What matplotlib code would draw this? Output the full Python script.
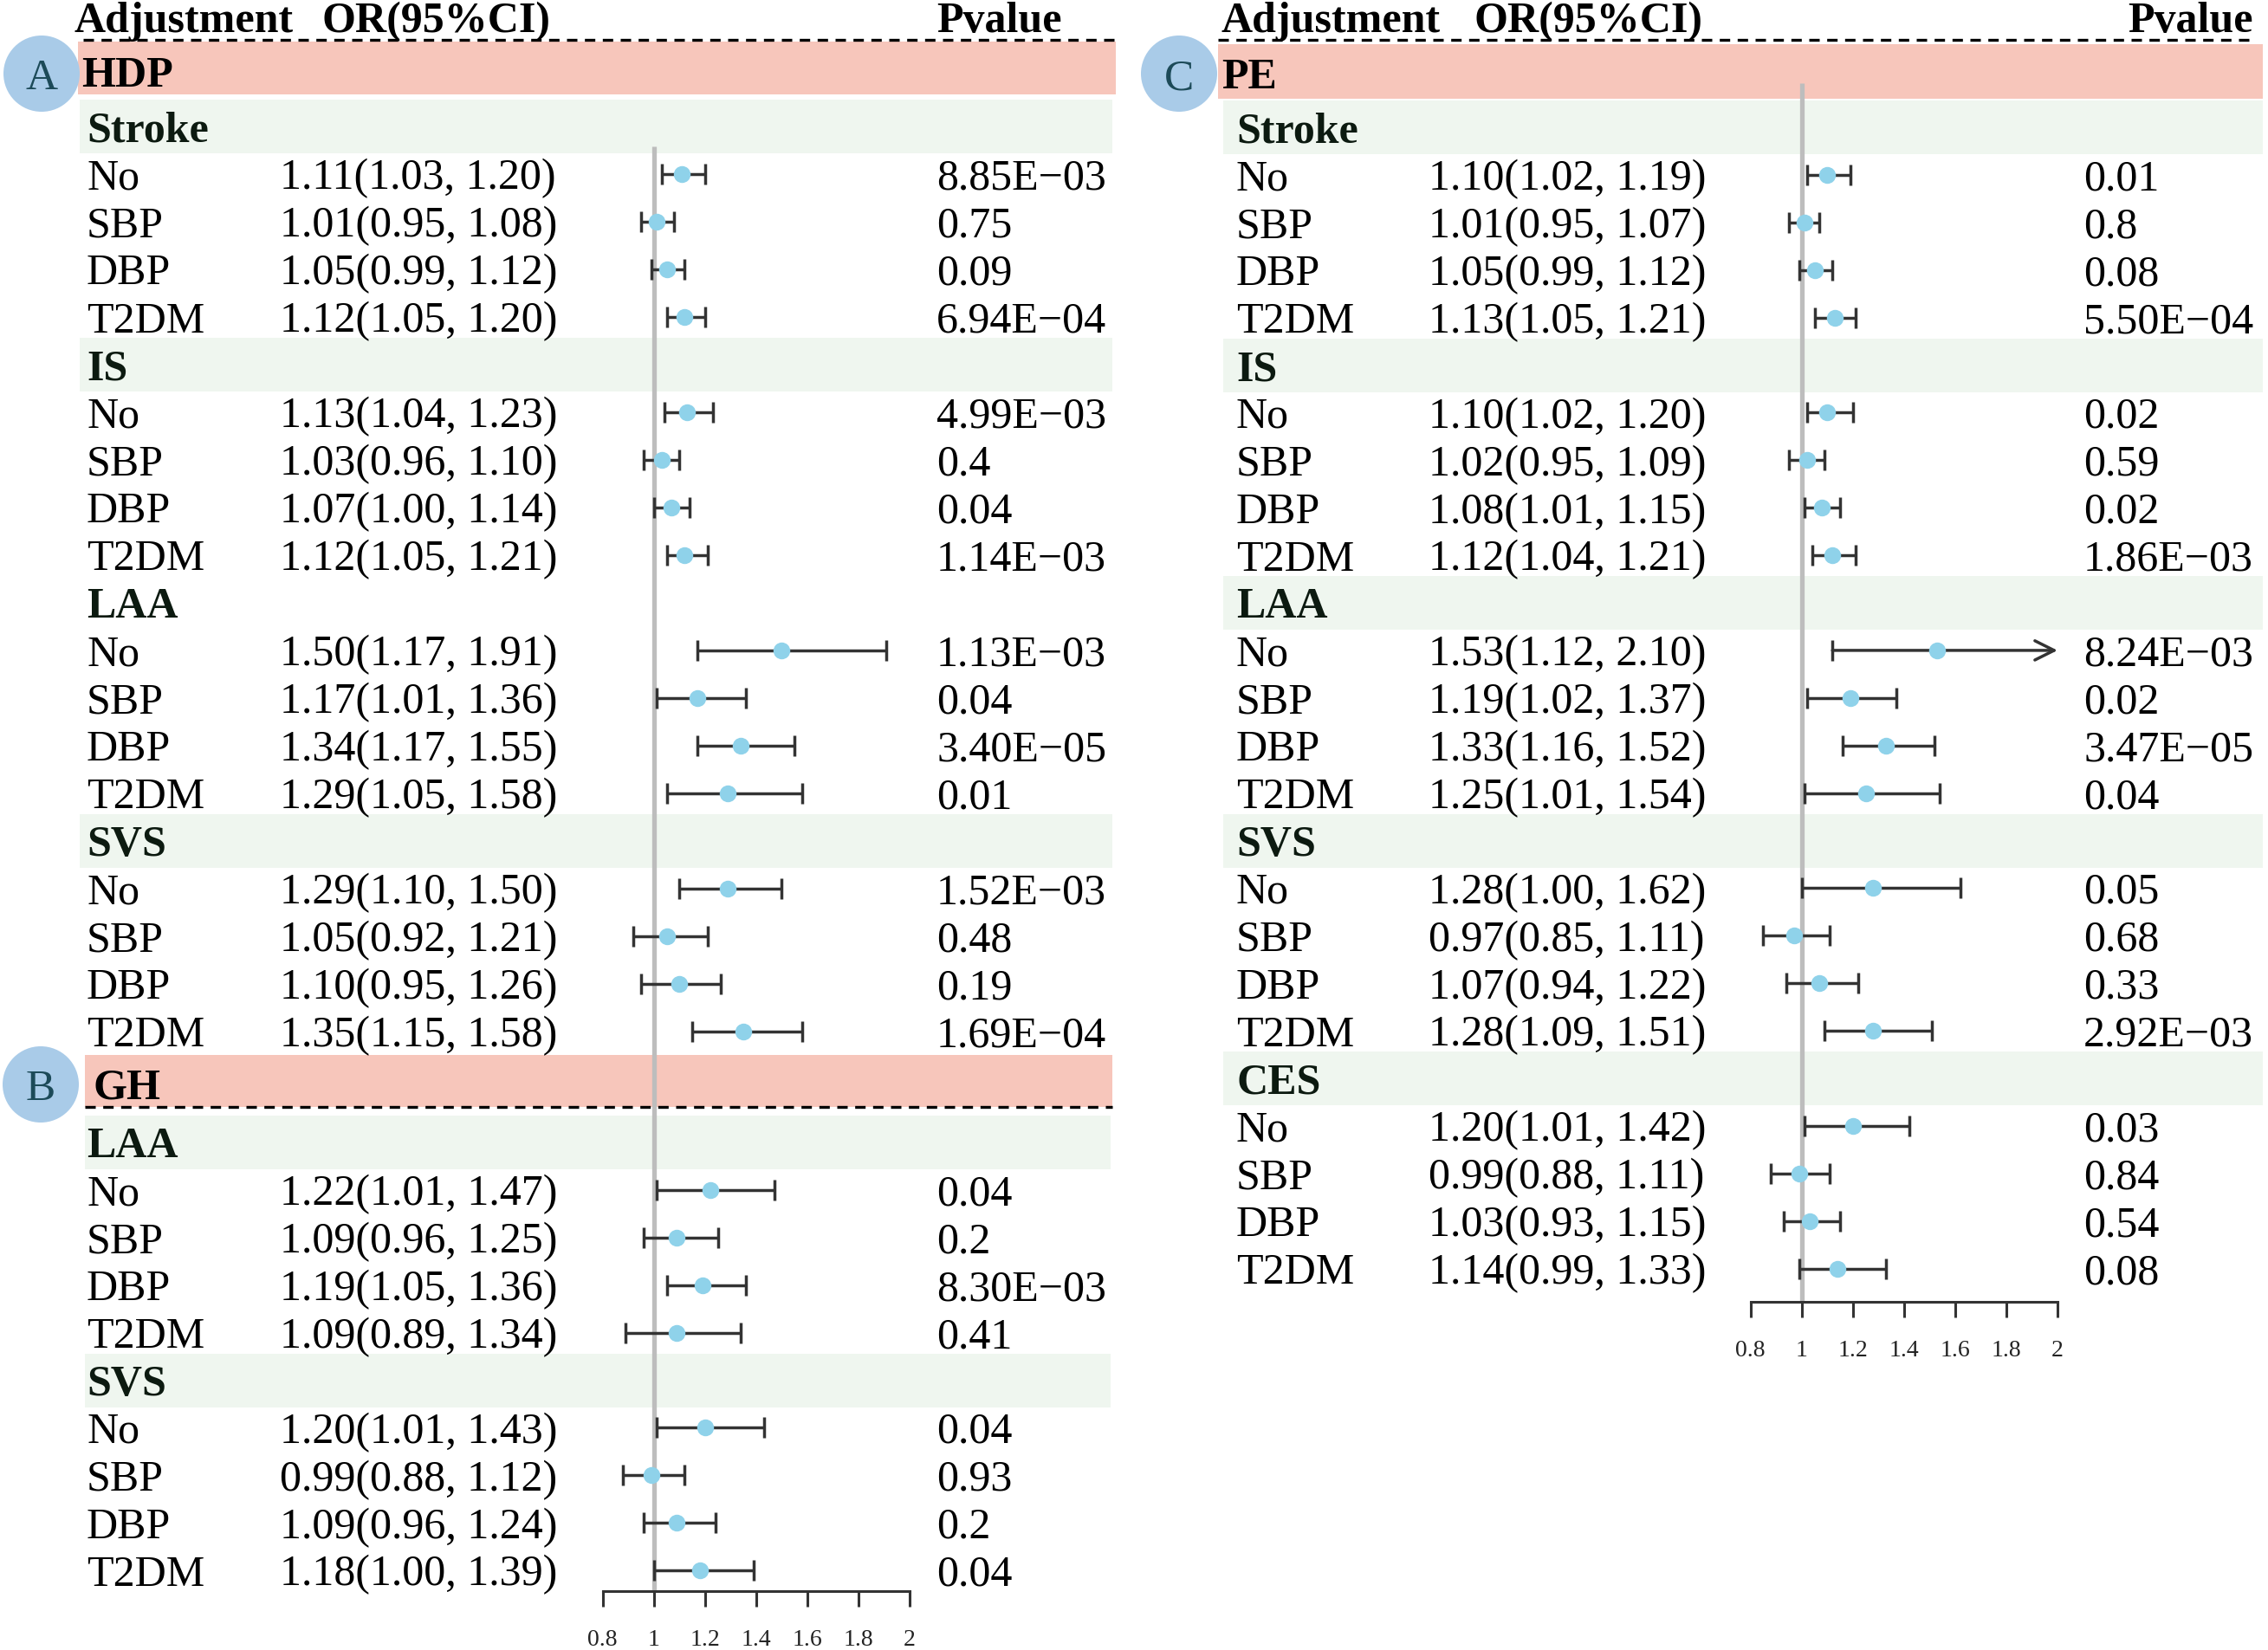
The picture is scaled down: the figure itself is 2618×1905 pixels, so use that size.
import matplotlib
matplotlib.use('Agg')
import matplotlib.pyplot as plt
from matplotlib.patches import Rectangle, Circle

plt.rcParams['font.family'] = ['Liberation Serif', 'DejaVu Serif']

# ---------------- data ----------------
adjust = ["No", "SBP", "DBP", "T2DM"]

hdp_groups = ["Stroke", "IS", "LAA", "SVS"]
hdp_band = [True, True, False, True]
hdp_or = [1.11, 1.01, 1.05, 1.12, 1.13, 1.03, 1.07, 1.12, 1.50, 1.17, 1.34, 1.29, 1.29, 1.05, 1.10, 1.35]
hdp_lo = [1.03, 0.95, 0.99, 1.05, 1.04, 0.96, 1.00, 1.05, 1.17, 1.01, 1.17, 1.05, 1.10, 0.92, 0.95, 1.15]
hdp_hi = [1.20, 1.08, 1.12, 1.20, 1.23, 1.10, 1.14, 1.21, 1.91, 1.36, 1.55, 1.58, 1.50, 1.21, 1.26, 1.58]
hdp_p = ["8.85E\u221203", "0.75", "0.09", "6.94E\u221204",
         "4.99E\u221203", "0.4", "0.04", "1.14E\u221203",
         "1.13E\u221203", "0.04", "3.40E\u221205", "0.01",
         "1.52E\u221203", "0.48", "0.19", "1.69E\u221204"]

gh_groups = ["LAA", "SVS"]
gh_band = [True, True]
gh_or = [1.22, 1.09, 1.19, 1.09, 1.20, 0.99, 1.09, 1.18]
gh_lo = [1.01, 0.96, 1.05, 0.89, 1.01, 0.88, 0.96, 1.00]
gh_hi = [1.47, 1.25, 1.36, 1.34, 1.43, 1.12, 1.24, 1.39]
gh_p = ["0.04", "0.2", "8.30E\u221203", "0.41", "0.04", "0.93", "0.2", "0.04"]

pe_groups = ["Stroke", "IS", "LAA", "SVS", "CES"]
pe_band = [True, True, True, True, True]
pe_or = [1.10, 1.01, 1.05, 1.13, 1.10, 1.02, 1.08, 1.12, 1.53, 1.19, 1.33, 1.25,
         1.28, 0.97, 1.07, 1.28, 1.20, 0.99, 1.03, 1.14]
pe_lo = [1.02, 0.95, 0.99, 1.05, 1.02, 0.95, 1.01, 1.04, 1.12, 1.02, 1.16, 1.01,
         1.00, 0.85, 0.94, 1.09, 1.01, 0.88, 0.93, 0.99]
pe_hi = [1.19, 1.07, 1.12, 1.21, 1.20, 1.09, 1.15, 1.21, 2.10, 1.37, 1.52, 1.54,
         1.62, 1.11, 1.22, 1.51, 1.42, 1.11, 1.15, 1.33]
pe_p = ["0.01", "0.8", "0.08", "5.50E\u221204",
        "0.02", "0.59", "0.02", "1.86E\u221203",
        "8.24E\u221203", "0.02", "3.47E\u221205", "0.04",
        "0.05", "0.68", "0.33", "2.92E\u221203",
        "0.03", "0.84", "0.54", "0.08"]

x_ticks = [0.8, 1, 1.2, 1.4, 1.6, 1.8, 2]
x_tick_labels = ["0.8", "1", "1.2", "1.4", "1.6", "1.8", "2"]
ref_value = 1

# ---------------- style ----------------
W, H = 2618, 1906
FS = 36
BL = 16.5
SALMON = '#f7c6bb'
GREEN = '#eff6ef'
CIRCLE = '#a9cbe8'
LETTER = '#1c4a58'
POINT = '#8fd2ea'
BAR = '#333333'
REF = '#bdbdbd'
HEADC = '#0c1a10'
LW = 2.5

fig = plt.figure(figsize=(W / 100, H / 100), dpi=100)
ov = fig.add_axes([0, 0, 1, 1])
ov.set_xlim(0, W)
ov.set_ylim(H, 0)
ov.axis('off')


def txt(x, yc, s, bold=False, color='black', ha='left', size=FS):
    ov.text(x, yc + BL, s, fontsize=size, fontweight='bold' if bold else 'normal',
            va='baseline', ha=ha, color=color)


def forest_axes(x0px, axis_y, ref_top):
    span = 354.3
    ax = fig.add_axes([x0px / W, 0, span / W, 1])
    ax.set_xlim(x_ticks[0], x_ticks[-1])
    ax.set_ylim(H, 0)
    ax.patch.set_alpha(0)
    for s in ['top', 'left', 'right']:
        ax.spines[s].set_visible(False)
    ax.spines['bottom'].set_position(('data', axis_y))
    ax.spines['bottom'].set_bounds(x_ticks[0], x_ticks[-1])
    ax.spines['bottom'].set_linewidth(2.2)
    ax.spines['bottom'].set_color(BAR)
    ax.set_yticks([])
    ax.set_xticks(x_ticks)
    ax.set_xticklabels(x_tick_labels)
    ax.tick_params(axis='x', direction='out', length=13, width=2.2, color=BAR,
                   pad=18, labelsize=20, labelcolor='#222222')
    ax.plot([ref_value, ref_value], [ref_top, axis_y], color=REF, lw=3.8,
            zorder=1, solid_capstyle='butt', clip_on=False)
    return ax


def block(ax, groups, bands, ors, los, his, ps, y0, step, xs, band_x):
    xl, xo, xp = xs
    xmax = x_ticks[-1]
    for gi, g in enumerate(groups):
        yh = y0 + gi * 5 * step
        if bands[gi]:
            ov.add_patch(Rectangle((band_x[0], yh - 31), band_x[1] - band_x[0], 62,
                                   color=GREEN, zorder=0, lw=0))
        txt(xl, yh, g, bold=True, color=HEADC)
        for j, a in enumerate(adjust):
            k = gi * 4 + j
            y = yh + (j + 1) * step
            txt(xl, y, a)
            txt(xo, y, f"{ors[k]:.2f}({los[k]:.2f}, {his[k]:.2f})")
            txt(xp, y, ps[k])
            if his[k] > xmax:
                ax.plot([los[k]], [y], marker='|', markersize=16.6, mew=LW,
                        color=BAR, zorder=2, clip_on=False)
                ax.annotate('', xy=(xmax, y), xytext=(los[k], y),
                            arrowprops=dict(arrowstyle='->,head_length=0.8,head_width=0.4',
                                            color=BAR, lw=LW, shrinkA=0, shrinkB=0,
                                            mutation_scale=20),
                            zorder=2, annotation_clip=False)
            else:
                ax.errorbar([ors[k]], [y], xerr=[[ors[k] - los[k]], [his[k] - ors[k]]],
                            fmt='none', ecolor=BAR, elinewidth=LW, capsize=8.3,
                            capthick=LW, zorder=2, clip_on=False)
            ax.plot([ors[k]], [y], 'o', color=POINT, markersize=14, mew=0,
                    zorder=3, clip_on=False)


def dashed(x0, x1, y):
    ov.plot([x0, x1], [y, y], color='black', lw=2.4, dashes=(3.6, 2.6), zorder=2)


def badge(x, y, s):
    ov.add_patch(Circle((x, y), 44, color=CIRCLE, zorder=4, lw=0))
    ov.text(x, y + 17, s, fontsize=37, ha='center', va='baseline', color=LETTER, zorder=5)


# ---------------- left panel (A: HDP, B: GH) ----------------
axL = forest_axes(695.7, 1838, 170)
txt(86, 21, "Adjustment", bold=True)
txt(372, 21, "OR(95%CI)", bold=True)
txt(1081, 21, "Pvalue", bold=True)
dashed(96, 1290, 47)
ov.add_patch(Rectangle((90, 49), 1198, 61, color=SALMON, zorder=0, lw=0))
txt(94, 83, "HDP", bold=True)
badge(48, 86, "A")
block(axL, hdp_groups, hdp_band, hdp_or, hdp_lo, hdp_hi, hdp_p,
      147, 55.0, (100, 323, 1081), (92, 1284))

ov.add_patch(Rectangle((98, 1219), 1186, 60, color=SALMON, zorder=0, lw=0))
dashed(98, 1284, 1279)
txt(108, 1252, "GH", bold=True)
badge(47, 1253, "B")
block(axL, gh_groups, gh_band, gh_or, gh_lo, gh_hi, gh_p,
      1320, 54.9, (100, 323, 1081), (98, 1282))

# ---------------- right panel (C: PE) ----------------
axR = forest_axes(2020.7, 1504, 97)
txt(1410, 21, "Adjustment", bold=True)
txt(1701, 21, "OR(95%CI)", bold=True)
txt(2601, 21, "Pvalue", bold=True, ha='right')
dashed(1406, 2602, 47)
ov.add_patch(Rectangle((1406, 52), 1206, 63, color=SALMON, zorder=0, lw=0))
txt(1410, 86, "PE", bold=True)
badge(1361, 86, "C")
block(axR, pe_groups, pe_band, pe_or, pe_lo, pe_hi, pe_p,
      148, 54.9, (1427, 1649, 2405), (1412, 2612))

fig.savefig('out.png', dpi=100, facecolor='white')
